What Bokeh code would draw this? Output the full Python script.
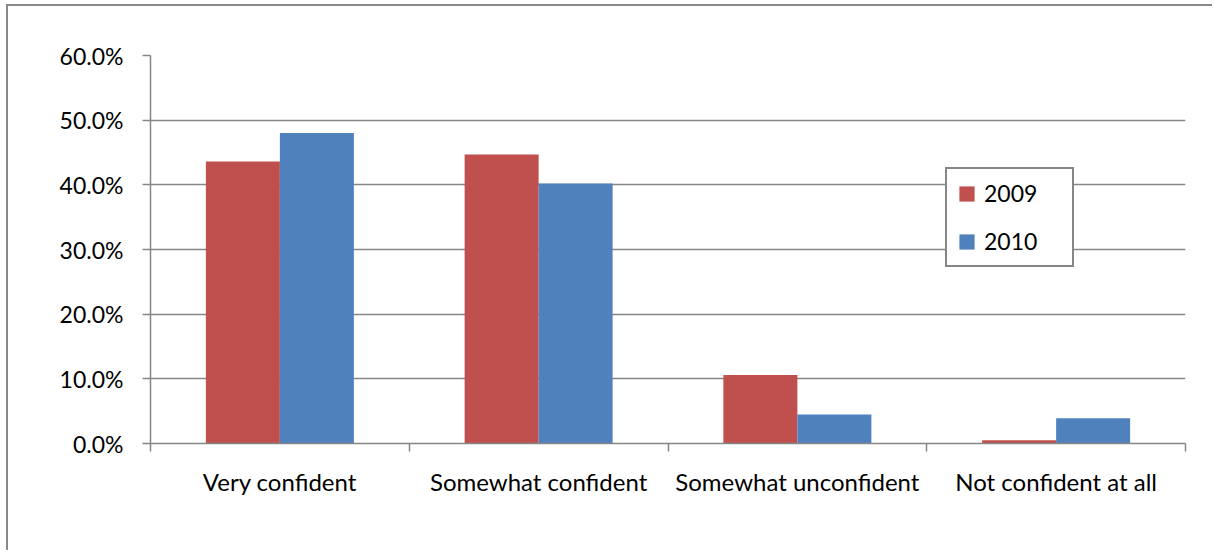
from bokeh.plotting import figure
from bokeh.models import ColumnDataSource, FixedTicker, NumeralTickFormatter, Range1d, Legend, LegendItem
from bokeh.embed import file_html
from bokeh.resources import INLINE

categories = ["Very confident", "Somewhat confident", "Somewhat unconfident", "Not confident at all"]
series_names = ["2009", "2010"]
values_2009 = [0.436, 0.447, 0.106, 0.005]
values_2010 = [0.480, 0.402, 0.045, 0.039]
y_ticks = [0.0, 0.1, 0.2, 0.3, 0.4, 0.5, 0.6]

FONT = "Lato"
GRAY = "#868686"
RED = "#C0504D"
BLUE = "#4F81BD"

n = len(categories)
centers = [i + 0.5 for i in range(n)]
bar_w = 0.286

src09 = ColumnDataSource(dict(x=[c - bar_w / 2 for c in centers], top=values_2009))
src10 = ColumnDataSource(dict(x=[c + bar_w / 2 for c in centers], top=values_2010))

p = figure(width=1206, height=546, output_backend="svg", toolbar_location=None,
           x_range=Range1d(0, n), y_range=Range1d(0, 0.6),
           min_border_left=142, min_border_right=29, min_border_top=49, min_border_bottom=109)
p.styles = {"border-left": "2px solid #898989", "border-top": "2px solid #898989",
            "border-right": "0px none white", "border-bottom": "0px none white",
            "margin-left": "6px", "margin-top": "4px"}
p.outline_line_color = None
p.background_fill_color = "white"
p.border_fill_color = "white"

r1 = p.vbar(x="x", top="top", bottom=0, width=bar_w, source=src09, fill_color=RED, line_color=None)
r2 = p.vbar(x="x", top="top", bottom=0, width=bar_w, source=src10, fill_color=BLUE, line_color=None)

# x axis
p.xaxis.ticker = FixedTicker(ticks=centers, minor_ticks=list(range(n + 1)))
p.xaxis.major_label_overrides = {c: lab for c, lab in zip(centers, categories)}
p.xaxis.major_tick_out = 0
p.xaxis.major_tick_in = 0
p.xaxis.minor_tick_out = 8
p.xaxis.minor_tick_in = 0
p.xaxis.minor_tick_line_color = GRAY
p.xaxis.minor_tick_line_width = 1.5
p.xaxis.axis_line_color = GRAY
p.xaxis.axis_line_width = 1.5
p.xaxis.major_label_text_font = FONT
p.xaxis.major_label_text_font_size = "24px"
p.xaxis.major_label_text_color = "black"
p.xaxis.major_label_standoff = 15
p.xgrid.visible = False

# y axis
p.yaxis.ticker = FixedTicker(ticks=y_ticks)
p.yaxis.formatter = NumeralTickFormatter(format="0.0%")
p.yaxis.major_tick_out = 8
p.yaxis.major_tick_in = 0
p.yaxis.minor_tick_line_color = None
p.yaxis.major_tick_line_color = GRAY
p.yaxis.major_tick_line_width = 1.5
p.yaxis.axis_line_color = GRAY
p.yaxis.axis_line_width = 1.5
p.yaxis.major_label_text_font = FONT
p.yaxis.major_label_text_font_size = "23px"
p.yaxis.major_label_text_color = "black"
p.yaxis.major_label_standoff = 19
p.ygrid.grid_line_color = GRAY
p.ygrid.grid_line_width = 1.5

legend = Legend(items=[LegendItem(label=series_names[0], renderers=[r1]),
                       LegendItem(label=series_names[1], renderers=[r2])],
                location=(795, 176))
legend.border_line_color = GRAY
legend.border_line_alpha = 1
legend.border_line_width = 2
legend.background_fill_color = "white"
legend.background_fill_alpha = 1
legend.label_text_font = FONT
legend.label_text_font_size = "23px"
legend.label_text_color = "black"
legend.glyph_width = 19
legend.glyph_height = 19
legend.label_height = 22
legend.label_width = 78
legend.label_standoff = 8
legend.spacing = 20
legend.padding = 10
legend.margin = 0
p.add_layout(legend, "center")

open("out.html", "w").write(file_html(p, INLINE))
